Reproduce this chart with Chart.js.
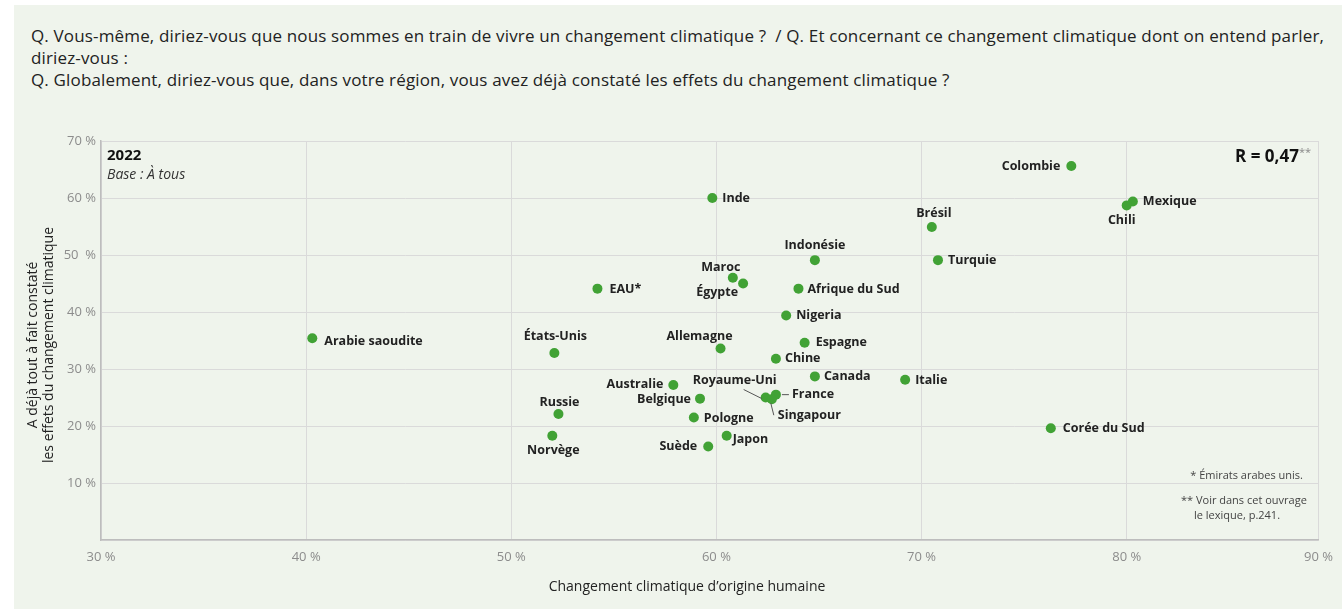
<!DOCTYPE html>
<html lang="fr">
<head>
<meta charset="utf-8">
<script src="https://cdn.jsdelivr.net/npm/chart.js@4.4.1/dist/chart.umd.min.js"></script>
<style>
  html, body { margin: 0; padding: 0; background: #fff; width: 1342px; height: 609px; overflow: hidden; }
  #panel { position: absolute; left: 14px; top: 5px; width: 1328px; height: 604px; background: #eff4ec; }
  #question {
    position: absolute; left: 31px; top: 25px; white-space: nowrap;
    font-family: "Open Sans", sans-serif; font-size: 17px; letter-spacing: 0.15px; line-height: 22px; color: #222;
  }
  #wrap { position: absolute; left: 0; top: 0; width: 1342px; height: 609px; }
</style>
</head>
<body>
<div id="panel"></div>
<div id="question">
  Q. Vous-même, diriez-vous que nous sommes en train de vivre un changement climatique ?&nbsp; / Q. Et concernant ce changement climatique dont on entend parler,<br>
  diriez-vous :<br>
  Q. Globalement, diriez-vous que, dans votre région, vous avez déjà constaté les effets du changement climatique ?
</div>
<div id="wrap"><canvas id="chart"></canvas></div>
<script>
// Données : pays, % changement climatique d'origine humaine (x), % a déjà constaté les effets (y)
const countries = [
  "Arabie saoudite", "Inde", "Indonésie", "Maroc", "Égypte", "EAU*", "Afrique du Sud",
  "Nigeria", "États-Unis", "Allemagne", "Espagne", "Chine", "Canada", "Colombie",
  "Mexique", "Chili", "Brésil", "Turquie", "Italie", "Corée du Sud", "Australie",
  "Belgique", "Royaume-Uni", "France", "Singapour", "Pologne", "Russie", "Norvège",
  "Japon", "Suède"
];
const humanOrigin = [
  40.3, 59.8, 64.8, 60.8, 61.3, 54.2, 64.0,
  63.4, 52.1, 60.2, 64.3, 62.9, 64.8, 77.3,
  80.3, 80.0, 70.5, 70.8, 69.2, 76.3, 57.9,
  59.2, 62.4, 62.9, 62.7, 58.9, 52.3, 52.0,
  60.5, 59.6
];
const effectsSeen = [
  35.4, 60.0, 49.1, 46.0, 45.0, 44.1, 44.1,
  39.4, 32.8, 33.6, 34.6, 31.8, 28.7, 65.6,
  59.4, 58.7, 54.9, 49.1, 28.1, 19.6, 27.2,
  24.8, 25.0, 25.5, 24.7, 21.5, 22.1, 18.3,
  18.3, 16.4
];
// l'axe x du graphique s'arrête un peu avant 90 %, le libellé « 90 % » est posé sur le bord
const xTicks = [30, 40, 50, 60, 70, 80];
const xEdge = 89.35;
const yTicks = [10, 20, 30, 40, 50, 60, 70];

// placement des étiquettes : [alignement, dx, dy] (dy = milieu du texte), + trait éventuel
const labelPlacement = {
  "Arabie saoudite": ["left", 12, 3],
  "Inde": ["left", 10, 0],
  "Indonésie": ["center", 0, -15],
  "Maroc": ["center", -12, -10],
  "Égypte": ["center", -26, 9],
  "EAU*": ["left", 12, 1],
  "Afrique du Sud": ["left", 9, 1],
  "Nigeria": ["left", 10, 0],
  "États-Unis": ["center", 1, -17],
  "Allemagne": ["center", -21, -12],
  "Espagne": ["left", 11, 0],
  "Chine": ["left", 9, 0],
  "Canada": ["left", 9, 0],
  "Colombie": ["right", -11, 0],
  "Mexique": ["left", 10, 0],
  "Chili": ["center", -5, 15],
  "Brésil": ["center", 2, -14],
  "Turquie": ["left", 10, 0],
  "Italie": ["left", 10, 1],
  "Corée du Sud": ["left", 12, 0],
  "Australie": ["right", -10, -1],
  "Belgique": ["right", -9, 1],
  "Royaume-Uni": ["center", -31, -17, [-22, -8, -4, 1]],
  "France": ["left", 16, 0, [6, 0, 13, 0]],
  "Singapour": ["left", 6, 16, [-1, 4, 2, 16]],
  "Pologne": ["left", 10, 1],
  "Russie": ["center", 1, -12],
  "Norvège": ["center", 1, 15],
  "Japon": ["left", 6, 4],
  "Suède": ["right", -11, 0]
};

const GREEN = "#41a235";
const FONT = '"Open Sans", sans-serif';

// étiquettes des pays + textes annexes
const annotations = {
  id: "annotations",
  afterDatasetsDraw(chart) {
    const ctx = chart.ctx;
    const meta = chart.getDatasetMeta(0);
    ctx.save();
    ctx.font = "bold 12.5px " + FONT;
    ctx.fillStyle = "#222";
    ctx.textBaseline = "middle";
    meta.data.forEach((pt, i) => {
      const p = labelPlacement[countries[i]];
      if (p[3]) {
        const l = p[3];
        ctx.strokeStyle = "#555";
        ctx.lineWidth = 1;
        ctx.beginPath();
        ctx.moveTo(pt.x + l[0], pt.y + l[1]);
        ctx.lineTo(pt.x + l[2], pt.y + l[3]);
        ctx.stroke();
      }
      ctx.textAlign = p[0];
      ctx.fillText(countries[i], pt.x + p[1], pt.y + p[2]);
    });

    const a = chart.chartArea;
    ctx.textAlign = "left";
    ctx.font = "bold 15px " + FONT;
    ctx.fillStyle = "#111";
    ctx.fillText("2022", a.left + 6, a.top + 15);
    ctx.font = "italic 14px " + FONT;
    ctx.fillStyle = "#333";
    ctx.fillText("Base : À tous", a.left + 6, a.top + 34);

    // R = 0,47**
    ctx.font = "11px " + FONT;
    const starW = ctx.measureText("**").width;
    ctx.fillStyle = "#888";
    ctx.textAlign = "right";
    ctx.fillText("**", 1311, a.top + 12);
    ctx.font = "bold 17px " + FONT;
    ctx.fillStyle = "#111";
    ctx.fillText("R = 0,47", 1311 - starW, a.top + 16);

    // notes
    ctx.font = "11px " + FONT;
    ctx.fillStyle = "#444";
    ctx.fillText("* Émirats arabes unis.", 1303, 476);
    ctx.textAlign = "left";
    ctx.fillText("** Voir dans cet ouvrage", 1181, 501);
    ctx.fillText("le lexique, p.241.", 1194, 516);

    // titres des axes
    ctx.font = "14px " + FONT;
    ctx.fillStyle = "#222";
    ctx.textAlign = "center";
    ctx.fillText("Changement climatique d\u2019origine humaine", 687, 587);
    ctx.translate(41, 345);
    ctx.rotate(-Math.PI / 2);
    ctx.fillText("A déjà tout à fait constaté", 0, -8);
    ctx.fillText("les effets du changement climatique", 0, 8);
    ctx.restore();
  }
};

const ctx = document.getElementById("chart").getContext("2d");
new Chart(ctx, {
  type: "scatter",
  data: {
    datasets: [{
      data: countries.map((c, i) => ({ x: humanOrigin[i], y: effectsSeen[i] })),
      backgroundColor: GREEN,
      borderWidth: 0,
      pointRadius: 5,
      pointHoverRadius: 5
    }]
  },
  options: {
    responsive: true,
    maintainAspectRatio: false,
    animation: false,
    layout: { padding: { top: 141, right: 23, bottom: 0, left: 0 } },
    plugins: { legend: { display: false }, tooltip: { enabled: false } },
    scales: {
      x: {
        type: "linear",
        min: 30, max: xEdge,
        afterFit: (s) => { s.height = 69; },
        afterBuildTicks: (s) => { s.ticks = xTicks.concat([xEdge]).map((v) => ({ value: v })); },
        grid: { color: "#dadada", drawTicks: false },
        border: { color: "#bdbdbd", width: 1.5 },
        ticks: {
          padding: 9,
          color: "#8c8c8c",
          font: { family: FONT, size: 13 },
          callback: (v) => (v === xEdge ? "90 %" : v + " %")
        }
      },
      y: {
        type: "linear",
        min: 0, max: 70,
        afterFit: (s) => { s.width = 101; },
        afterBuildTicks: (s) => { s.ticks = [0].concat(yTicks).map((v) => ({ value: v })); },
        grid: { color: "#dadada", drawTicks: false },
        border: { color: "#bdbdbd", width: 1.5 },
        ticks: {
          padding: 5,
          color: "#8c8c8c",
          font: { family: FONT, size: 13 },
          callback: (v) => (v === 0 ? "" : v === 50 ? "50  %" : v + " %")
        }
      }
    }
  },
  plugins: [annotations]
});
</script>
</body>
</html>
